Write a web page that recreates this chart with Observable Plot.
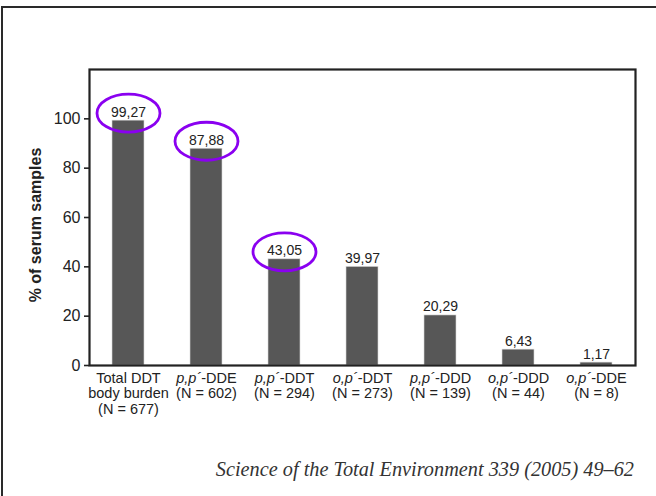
<!DOCTYPE html>
<html>
<head>
<meta charset="utf-8">
<script src="https://cdn.jsdelivr.net/npm/d3@7"></script>
<script src="https://cdn.jsdelivr.net/npm/@observablehq/plot@0.6"></script>
<style>
  html, body { margin: 0; padding: 0; background: #fff; }
  #wrap { position: relative; width: 656px; height: 496px; overflow: hidden; font-family: "Liberation Sans", Arial, sans-serif; }
  #border { position: absolute; left: 1px; top: 6px; width: 700px; height: 600px; border-top: 2px solid #2a2a2a; border-left: 2px solid #2a2a2a; }
  #chart { position: absolute; left: 0; top: 0; }
  #ytitle { position: absolute; left: 36px; top: 225px; transform: translate(-50%, -50%) rotate(-90deg); font-weight: bold; font-size: 16px; color: #222; white-space: nowrap; }
  #caption { position: absolute; right: 22px; top: 458px; font-family: "Liberation Serif", "Times New Roman", serif; font-style: italic; font-size: 20.3px; color: #333; white-space: nowrap; }
</style>
</head>
<body>
<div id="wrap">
  <div id="border"></div>
  <div id="chart"></div>
  <div id="ytitle"></div>
  <div id="caption">Science of the Total Environment 339 (2005) 49–62</div>
</div>
<script>
const categories = [
  "Total DDT\nbody burden\n(N = 677)",
  "p,p´-DDE\n(N = 602)",
  "p,p´-DDT\n(N = 294)",
  "o,p´-DDT\n(N = 273)",
  "p,p´-DDD\n(N = 139)",
  "o,p´-DDD\n(N = 44)",
  "o,p´-DDE\n(N = 8)"
];
const values = [99.27, 87.88, 43.05, 39.97, 20.29, 6.43, 1.17];
const valueLabels = ["99,27", "87,88", "43,05", "39,97", "20,29", "6,43", "1,17"];
const highlighted = [true, true, true, false, false, false, false];
const yTicks = [0, 20, 40, 60, 80, 100];
const yTitle = "% of serum samples";

document.getElementById("ytitle").textContent = yTitle;

const data = categories.map((c, i) => ({cat: c, value: values[i], label: valueLabels[i], hl: highlighted[i]}));

// ellipse symbol drawn with bezier curves
const ellipseSymbol = {
  draw(context, size) {
    const rx = 31.5, ry = 19, k = 0.5523;
    context.moveTo(rx, 0);
    context.bezierCurveTo(rx, ry * k, rx * k, ry, 0, ry);
    context.bezierCurveTo(-rx * k, ry, -rx, ry * k, -rx, 0);
    context.bezierCurveTo(-rx, -ry * k, -rx * k, -ry, 0, -ry);
    context.bezierCurveTo(rx * k, -ry, rx, -ry * k, rx, 0);
    context.closePath();
  }
};

const chart = Plot.plot({
  width: 656,
  height: 440,
  marginLeft: 89,
  marginRight: 21,
  marginTop: 69,
  marginBottom: 75,
  style: {fontFamily: "Liberation Sans, Arial, sans-serif", color: "#222", background: "transparent"},
  x: {domain: categories, paddingInner: 0.59, paddingOuter: 0.295, label: null},
  y: {domain: [0, 120], label: null},
  marks: [
    Plot.barY(data, {x: "cat", y: "value", fill: "#575757", stroke: "#d8d8d8", strokeWidth: 0.6}),
    Plot.text(data, {x: "cat", y: "value", text: "label", lineAnchor: "bottom", dy: -4, fontSize: 14, fill: "#222"}),
    Plot.dot(data.filter(d => d.hl), {x: "cat", y: "value", dy: -7.5, symbol: ellipseSymbol, fill: "none", stroke: "#8a00f0", strokeWidth: 2.8}),
    Plot.frame({stroke: "#222", strokeWidth: 2.2}),
    Plot.axisY({ticks: yTicks, tickSize: 5, tickPadding: 4, fontSize: 16, label: null, stroke: "#222", strokeWidth: 1.6}),
    Plot.axisX({tickSize: 0, tickPadding: 6, fontSize: 14.5, label: null, lineHeight: 1.08})
  ]
});

document.getElementById("chart").appendChild(chart);

// italicize the p,p´ / o,p´ prefixes in the x tick labels
d3.select(chart).selectAll('g[aria-label="x-axis tick label"] text tspan').each(function() {
  const t = this.textContent;
  const m = t.match(/^([op],p´)(.*)$/);
  if (m) {
    const sel = d3.select(this);
    sel.text(null);
    sel.append("tspan").attr("font-style", "italic").text(m[1]);
    sel.append("tspan").text(m[2]);
  }
});
d3.select(chart).selectAll('g[aria-label="x-axis tick label"] text').attr("fill", "#222");
d3.select(chart).selectAll('g[aria-label="y-axis tick label"] text').attr("fill", "#222");
</script>
</body>
</html>
